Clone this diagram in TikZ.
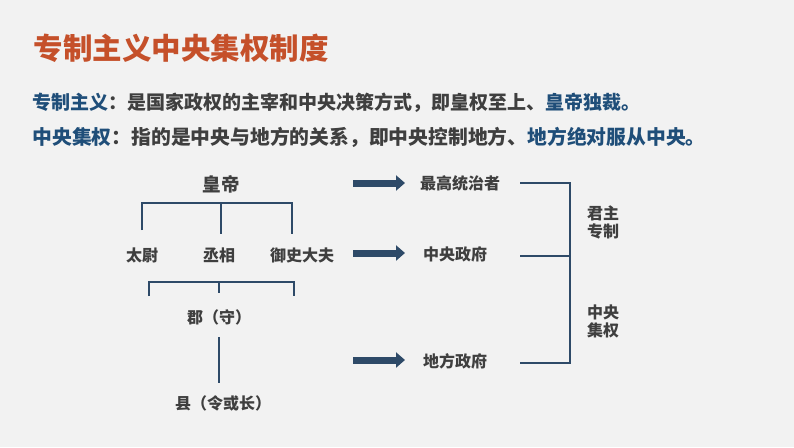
\documentclass[tikz,border=0pt]{standalone}
\usepackage{fontspec}
\setmainfont{Noto Sans CJK SC}
\usetikzlibrary{arrows.meta,positioning}
\definecolor{bg}{HTML}{F2F2F2}
\definecolor{titlered}{HTML}{C5502A}
\definecolor{deepblue}{HTML}{1F4E79}
\definecolor{textgray}{HTML}{3F3F3F}
\definecolor{linebl}{HTML}{2E4A68}
\tikzset{
    title/.style = {
        anchor=west,
        text=titlered,
        font=\bfseries\fontsize{29.5}{29.5}\selectfont,
        },
    intro/.style = {
        anchor=west,
        text=textgray,
        font=\bfseries\fontsize{19.3}{19.3}\selectfont,
        },
    label/.style = {
        text=textgray,
        font=\bfseries\fontsize{16}{16}\selectfont,
        inner sep=1pt,
        },
    tree/.style = {
        draw=linebl,
        line width=2pt,
        },
    bigarrow/.style = {
        draw=linebl,
        line width=7pt,
        -{Triangle[width=15pt,length=9pt]},
        },
}

\begin{document}
\begin{tikzpicture}[x=1pt,y=-1pt]
            \useasboundingbox[fill=bg] (0,0) rectangle (794,447);

            \node[title] (t) at (30,48) {专制主义中央集权制度};
            \node[intro, font=\bfseries\fontsize{19}{19}\selectfont] (l1) at (29,103) {\textcolor{deepblue}{专制主义}：是国家政权的主宰和中央决策方式，即皇权至上、\textcolor{deepblue}{皇帝独裁。}};
            \node[intro, font=\bfseries\fontsize{19.8}{19.8}\selectfont] (l2) at (29,137) {\textcolor{deepblue}{中央集权}：指的是中央与地方的关系，即中央控制地方、\textcolor{deepblue}{地方绝对服从中央。}};

            \node[label, font=\bfseries\fontsize{18.5}{18.5}\selectfont] (1) at (221,184) {皇帝};
            \node[label] (2) at (142,255) {太尉};
            \node[label] (3) at (219,255) {丞相};
            \node[label] (4) at (302,255) {御史大夫};
            \node[label] (5) at (219,317) {郡（守）};
            \node[label] (6) at (223,403) {县（令或长）};

            \node[label] (a) at (460,183) {最高统治者};
            \node[label] (b) at (455,254) {中央政府};
            \node[label] (c) at (455,361) {地方政府};
            \node[label, align=center] (d) at (603,222) {君主\\[2pt]专制};
            \node[label, align=center] (e) at (603,321) {中央\\[2pt]集权};

            % tree brackets
            \coordinate (b1l) at (142,230);
            \coordinate (b1m) at (221,203);
            \coordinate (b1r) at (292,234);
            \draw[tree] (b1l) |- (b1m) -| (b1r);
            \draw[tree] (b1m) -- (221,234);
            \coordinate (b2l) at (149,296);
            \coordinate (b2m) at (219,282);
            \coordinate (b2r) at (294,296);
            \draw[tree] (b2l) |- (b2m) -| (b2r);
            \draw[tree] (b2m) -- (219,293);
            \draw[tree] (219,337) -- (219,383);

            % arrows
            \draw[bigarrow] (353,183) -- (405,183);
            \draw[bigarrow] (353,253) -- (405,253);
            \draw[bigarrow] (353,360) -- (405,360);

            % right bracket
            \coordinate (r1) at (570,183);
            \coordinate (r3) at (570,363);
            \draw[tree] (520,183) -- (r1) -- (r3) -- (520,363);
            \draw[tree] (520,256) -- (570,256);
        \end{tikzpicture}
\end{document}
